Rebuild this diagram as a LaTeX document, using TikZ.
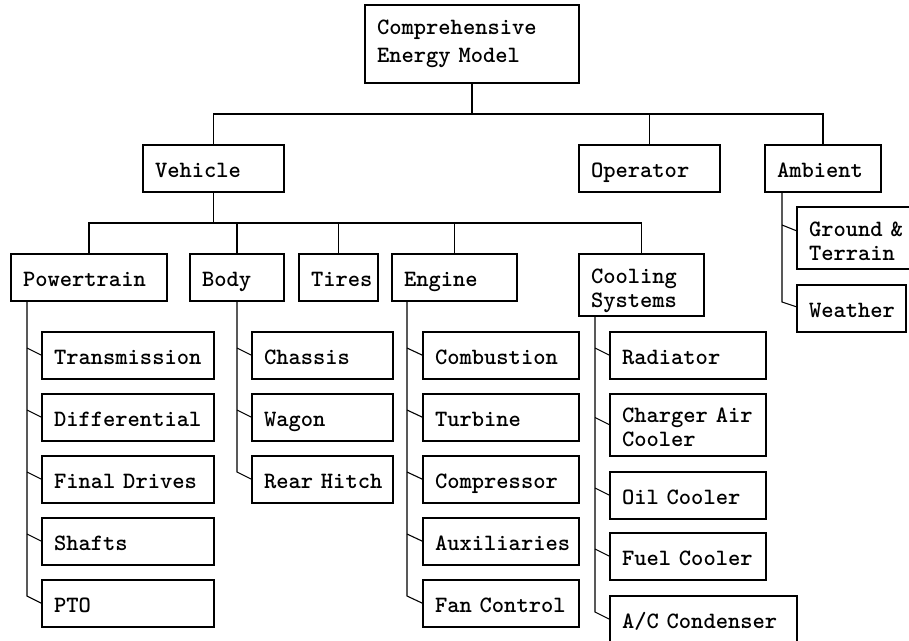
\documentclass[tikz,border=0pt]{standalone}
\usepackage{fontspec}
\newfontfamily\diamono[WordSpace={1,0,0}]{lmmonolt10-bold.otf}
\usetikzlibrary{calc}
\newcommand\diafont{\diamono\fontsize{23.4}{24}\selectfont}
\newcommand\diafonttop{\diamono\fontsize{23.4}{28}\selectfont}
\tikzset{
  bx/.style n args={4}{draw, line width=1.1pt, anchor=north west, inner xsep=12pt,
    inner ysep=0pt, outer sep=0pt, minimum width=#1, minimum height=#2,
    text width=#1-24pt, align=left, text height=#3, text depth=#4, font=\diafont},
  one/.style={bx={#1}{47}{18pt}{1pt}},
  conn/.style={line width=1.1pt, line join=miter},
}
\begin{document}
\begin{tikzpicture}[x=1pt, y=-1pt]
\useasboundingbox (0,0) rectangle (909,640);
\clip (0,0) rectangle (909,640);
% level 0
\node[bx={214}{78}{18pt}{38pt}, font=\diafonttop] (cem) at (365,5) {Comprehensive\\Energy~Model};
% level 1
\node[one=141] (veh) at (143,145) {Vehicle};
\node[one=141] (op) at (579,145) {Operator};
\node[one=116] (amb) at (765,145) {Ambient};
% level 2
\node[one=156] (pwr) at (11,254) {Powertrain};
\node[one=94] (body) at (190,254) {Body};
\node[one=79] (tires) at (299,254) {Tires};
\node[one=125] (eng) at (392,254) {Engine};
\node[bx={125}{62}{18pt}{22pt}] (cool) at (579,254) {Cooling\\Systems};
\node[bx={118}{62}{18pt}{22pt}] (gt) at (797,207) {Ground~\&\\Terrain};
\node[one=109] (wea) at (797,285) {Weather};
% powertrain children
\node[one=172] (tra) at (42,332) {Transmission};
\node[one=172] (dif) at (42,394) {Differential};
\node[one=172] (fin) at (42,456) {Final~Drives};
\node[one=172] (sha) at (42,518) {Shafts};
\node[one=172] (pto) at (42,580) {PTO};
% body children
\node[one=141] (cha) at (252,332) {Chassis};
\node[one=141] (wag) at (252,394) {Wagon};
\node[one=141] (rea) at (252,456) {Rear~Hitch};
% engine children
\node[one=156] (com) at (423,332) {Combustion};
\node[one=156] (tur) at (423,394) {Turbine};
\node[one=156] (cmp) at (423,456) {Compressor};
\node[one=156] (aux) at (423,518) {Auxiliaries};
\node[one=156] (fan) at (423,580) {Fan~Control};
% cooling children
\node[one=156] (rad) at (610,332) {Radiator};
\node[bx={156}{62}{18pt}{24pt}] (cac) at (610,394) {Charger~Air\\Cooler};
\node[one=156] (oil) at (610,472) {Oil~Cooler};
\node[one=156] (fue) at (610,533) {Fuel~Cooler};
\node[one=187] (acc) at (610,596) {A/C~Condenser};
% connectors level 0-1
\coordinate (b1) at (0,114);
\draw[conn] (cem.south) -- (cem.south |- b1);
\draw[conn] (veh.north) -- (veh.north |- b1) -- (amb.north |- b1) -- (amb.north);
\draw[conn] (op.north) -- (op.north |- b1);
% connectors level 1-2
\coordinate (b2) at (0,223);
\draw[conn] (veh.south) -- (veh.south |- b2);
\draw[conn] (pwr.north) -- (pwr.north |- b2) -- (cool.north |- b2) -- (cool.north);
\draw[conn] (body.north) -- (body.north |- b2);
\draw[conn] (tires.north) -- (tires.north |- b2);
\draw[conn] (eng.north) -- (eng.north |- b2);
% trunks
\draw[conn] ($(pwr.south -| pto.west)+(-15,0)$) -- ($(pto.west)+(-15,-7.5)$) -- (pto.west);
\foreach \c in {tra,dif,fin,sha} \draw[conn] ($(\c.west)+(-15,-7.5)$) -- (\c.west);
\draw[conn] (body.south) -- ($(rea.west)+(-15,-7.5)$) -- (rea.west);
\foreach \c in {cha,wag} \draw[conn] ($(\c.west)+(-15,-7.5)$) -- (\c.west);
\draw[conn] ($(eng.south -| fan.west)+(-16,0)$) -- ($(fan.west)+(-16,-7.5)$) -- (fan.west);
\foreach \c in {com,tur,cmp,aux} \draw[conn] ($(\c.west)+(-16,-7.5)$) -- (\c.west);
\draw[conn] ($(cool.south -| acc.west)+(-15,0)$) -- ($(acc.west)+(-15,-7.5)$) -- (acc.west);
\foreach \c in {rad,cac,oil,fue} \draw[conn] ($(\c.west)+(-15,-7.5)$) -- (\c.west);
\draw[conn] ($(amb.south -| wea.west)+(-15,0)$) -- ($(wea.west)+(-15,-6.5)$) -- ($(wea.west)+(0,-1.5)$);
\draw[conn] ($(gt.west)+(-15,-13)$) -- ($(gt.west)+(0,-7)$);
\end{tikzpicture}
\end{document}
